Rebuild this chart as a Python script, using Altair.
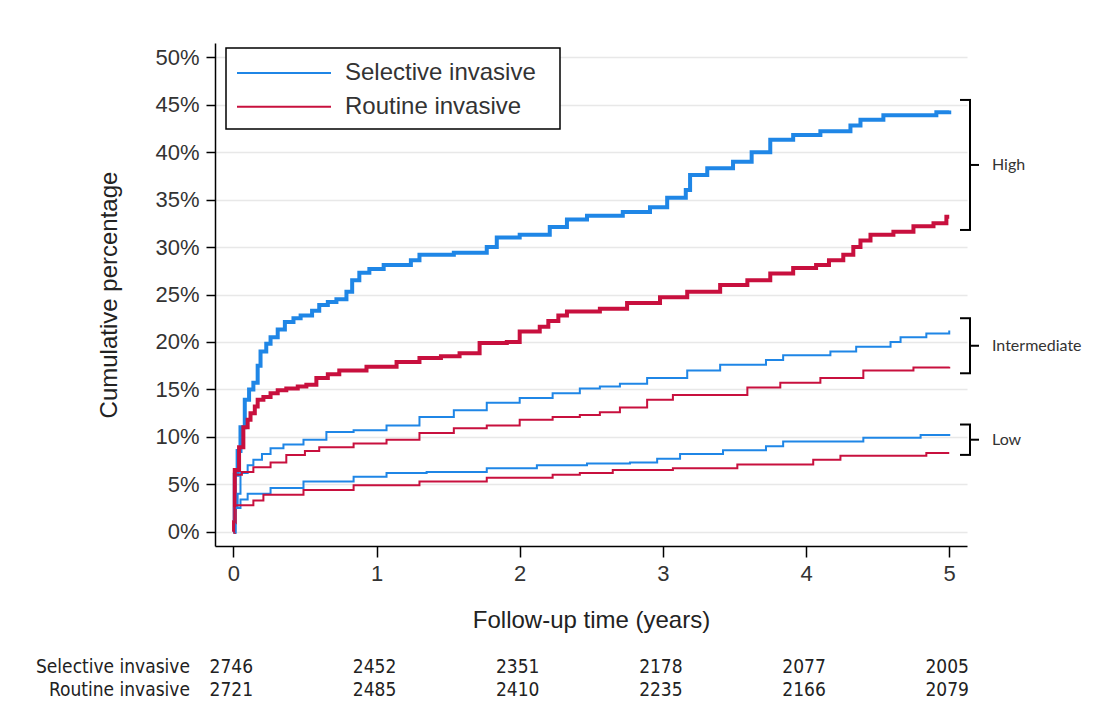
import altair as alt
import pandas as pd

arms = ["Selective invasive", "Routine invasive"]
groups = ["High", "Intermediate", "Low"]
arm_colors = ["#1f86e6", "#c8103e"]

# ---- cumulative incidence curves (years, cumulative %) ----
high_sel_t = [0, 0.01, 0.03, 0.05, 0.08, 0.11, 0.14, 0.17, 0.19, 0.23, 0.26, 0.31, 0.36, 0.42, 0.47,
              0.55, 0.6, 0.66, 0.72, 0.79, 0.83, 0.88, 0.95, 1.05, 1.24, 1.3, 1.54, 1.77, 1.84, 2.0,
              2.21, 2.33, 2.47, 2.72, 2.91, 3.03, 3.16, 3.19, 3.31, 3.49, 3.62, 3.75, 3.91, 4.1,
              4.31, 4.38, 4.54, 4.91, 5.0]
high_sel_p = [0, 6.0, 8.5, 11.0, 13.9, 15.0, 15.7, 17.5, 19.0, 19.8, 20.5, 21.3, 22.1, 22.5, 22.8,
              23.3, 23.9, 24.2, 24.5, 25.3, 26.5, 27.3, 27.7, 28.1, 28.6, 29.2, 29.4, 30.0, 31.0, 31.3,
              32.1, 32.9, 33.3, 33.7, 34.2, 35.2, 36.0, 37.6, 38.3, 39.0, 40.0, 41.3, 41.8, 42.2,
              42.8, 43.4, 43.9, 44.2, 44.4]

high_rout_t = [0, 0.005, 0.01, 0.04, 0.07, 0.1, 0.12, 0.15, 0.17, 0.21, 0.26, 0.31, 0.37, 0.45, 0.51,
               0.58, 0.66, 0.74, 0.93, 1.14, 1.3, 1.45, 1.58, 1.72, 1.91, 2.0, 2.14, 2.2, 2.27, 2.33,
               2.56, 2.75, 2.98, 3.17, 3.4, 3.59, 3.75, 3.91, 4.07, 4.16, 4.26, 4.33, 4.38, 4.45,
               4.61, 4.75, 4.89, 4.98, 5.0]
high_rout_p = [0, 1.0, 6.5, 8.9, 11.0, 11.8, 12.5, 13.2, 13.9, 14.2, 14.6, 14.9, 15.1, 15.3, 15.5,
               16.2, 16.6, 17.0, 17.4, 17.9, 18.3, 18.5, 18.8, 19.9, 20.0, 21.1, 21.6, 22.2, 22.8, 23.2,
               23.5, 24.1, 24.7, 25.3, 26.0, 26.5, 27.2, 27.8, 28.1, 28.6, 29.2, 30.0, 30.7, 31.3,
               31.6, 32.2, 32.5, 33.2, 33.2]

int_sel_t = [0, 0.01, 0.03, 0.05, 0.1, 0.14, 0.2, 0.26, 0.35, 0.49, 0.65, 0.84, 1.07, 1.3, 1.54,
             1.77, 2.0, 2.23, 2.42, 2.56, 2.7, 2.89, 3.17, 3.4, 3.72, 3.84, 4.17, 4.35, 4.59, 4.66,
             4.84, 5.0]
int_sel_p = [0, 2.5, 4.0, 6.2, 7.0, 7.6, 8.2, 8.8, 9.2, 9.7, 10.5, 10.7, 11.2, 12.1, 12.8,
             13.6, 14.1, 14.6, 15.1, 15.3, 15.6, 16.2, 17.0, 17.6, 18.1, 18.6, 19.0, 19.5, 20.0, 20.5,
             20.9, 21.2]

int_rout_t = [0, 0.005, 0.01, 0.06, 0.14, 0.26, 0.37, 0.5, 0.6, 0.84, 1.07, 1.3, 1.54, 1.77, 2.0,
              2.23, 2.42, 2.56, 2.7, 2.89, 3.07, 3.59, 3.82, 4.1, 4.4, 4.75, 5.0]
int_rout_p = [0, 1.0, 6.0, 6.3, 6.8, 7.3, 8.1, 8.5, 8.9, 9.3, 9.7, 10.4, 10.9, 11.2, 11.8,
              12.1, 12.3, 12.6, 13.1, 13.9, 14.4, 15.2, 15.7, 16.2, 17.0, 17.3, 17.4]

low_sel_t = [0, 0.01, 0.05, 0.1, 0.26, 0.49, 0.84, 1.07, 1.35, 1.77, 2.12, 2.47, 2.77, 2.96, 3.12,
             3.42, 3.72, 3.84, 4.4, 4.8, 5.0]
low_sel_p = [0, 2.5, 3.4, 4.0, 4.6, 5.3, 5.8, 6.2, 6.3, 6.7, 7.0, 7.2, 7.3, 7.7, 8.2,
             8.6, 9.0, 9.5, 9.9, 10.2, 10.3]

low_rout_t = [0, 0.005, 0.01, 0.14, 0.21, 0.49, 0.84, 1.3, 1.77, 2.23, 2.42, 2.65, 3.07, 3.52, 4.05,
              4.24, 4.84, 5.0]
low_rout_p = [0, 1.0, 2.8, 3.3, 3.9, 4.4, 4.9, 5.3, 5.7, 6.0, 6.2, 6.5, 6.7, 7.1, 7.6,
              8.0, 8.3, 8.3]

# ---- numbers at risk ----
risk_years = [0, 1, 2, 3, 4, 5]
risk_sel = [2746, 2452, 2351, 2178, 2077, 2005]
risk_rout = [2721, 2485, 2410, 2235, 2166, 2079]

# ---- risk-group brackets (cumulative %) ----
bracket_top = [45.5, 22.5, 11.3]
bracket_bottom = [31.8, 16.7, 8.1]

series = [
    ("High", arms[0], high_sel_t, high_sel_p),
    ("High", arms[1], high_rout_t, high_rout_p),
    ("Intermediate", arms[0], int_sel_t, int_sel_p),
    ("Intermediate", arms[1], int_rout_t, int_rout_p),
    ("Low", arms[0], low_sel_t, low_sel_p),
    ("Low", arms[1], low_rout_t, low_rout_p),
]
rows = []
for g, a, ts, ps in series:
    for t, p in zip(ts, ps):
        rows.append({"group": g, "arm": a, "t": t, "p": p})
curves = pd.DataFrame(rows)

risk_rows = []
for a, ns in zip(arms, [risk_sel, risk_rout]):
    for yr, n in zip(risk_years, ns):
        risk_rows.append({"arm": a, "t": yr, "n": str(n)})
risk = pd.DataFrame(risk_rows)

brackets = pd.DataFrame({"group": groups, "top": bracket_top, "bottom": bracket_bottom})
arm_df = pd.DataFrame({"arm": arms})
one = pd.DataFrame({"k": [0]})

FONT = "Liberation Sans"
NARROW = "DejaVu Sans Condensed, Liberation Sans Narrow, Liberation Sans"
TXT = "#333333"

x_scale = alt.Scale(domain=[-0.128, 5.124], nice=False, zero=False)
y_scale = alt.Scale(domain=[-1.5, 51.5], nice=False, zero=False)
color = alt.Color("arm:N", scale=alt.Scale(domain=arms, range=arm_colors), legend=None)

x_enc = alt.X("t:Q", scale=x_scale, title="Follow-up time (years)",
              axis=alt.Axis(values=risk_years, grid=False, tickSize=11, labelPadding=6,
                            labelFlush=False, titlePadding=24))

lines = alt.Chart(curves).mark_line(interpolate="step-after").encode(
    x=x_enc,
    y=alt.Y("p:Q", scale=y_scale, title="Cumulative percentage",
            axis=alt.Axis(values=list(range(0, 51, 5)), labelExpr="datum.value + '%'",
                          grid=True, tickSize=9, labelPadding=7, titlePadding=33)),
    color=color,
    strokeWidth=alt.StrokeWidth("group:N",
                                scale=alt.Scale(type="ordinal", domain=groups, range=[4, 2, 2]),
                                legend=None),
)

bstyle = dict(color="black", strokeWidth=2)
b_vert = alt.Chart(brackets).mark_rule(**bstyle).encode(
    x=alt.value(755),
    y=alt.Y("top:Q", scale=y_scale, axis=None),
    y2="bottom:Q",
)
b_top = alt.Chart(brackets).mark_rule(**bstyle).encode(
    x=alt.value(745), x2=alt.value(756),
    y=alt.Y("top:Q", scale=y_scale, axis=None),
)
b_bot = alt.Chart(brackets).mark_rule(**bstyle).encode(
    x=alt.value(745), x2=alt.value(756),
    y=alt.Y("bottom:Q", scale=y_scale, axis=None),
)
b_mid = alt.Chart(brackets).transform_calculate(
    mid="(datum.top + datum.bottom) / 2"
).mark_rule(**bstyle).encode(
    x=alt.value(755), x2=alt.value(764),
    y=alt.Y("mid:Q", scale=y_scale, axis=None),
)
b_txt = alt.Chart(brackets).transform_calculate(
    mid="(datum.top + datum.bottom) / 2"
).mark_text(align="left", baseline="middle", font="Lato", fontSize=16, color=TXT).encode(
    x=alt.value(777),
    y=alt.Y("mid:Q", scale=y_scale, axis=None),
    text="group:N",
)

# legend
leg_y = alt.Y("arm:N", scale=alt.Scale(type="point", domain=arms, range=[30, 63.7], padding=0),
              axis=None)
leg_box = alt.Chart(one).mark_rect(fill="white", stroke="black", strokeWidth=1.5).encode(
    x=alt.value(11), x2=alt.value(345), y=alt.value(5), y2=alt.value(86),
)
leg_sym = alt.Chart(arm_df).mark_rule(strokeWidth=2).encode(
    x=alt.value(22), x2=alt.value(116), y=leg_y, color=color,
)
leg_lab = alt.Chart(arm_df).mark_text(align="left", baseline="middle", font=FONT, fontSize=24,
                                      color=TXT).encode(
    x=alt.value(130), y=leg_y, text="arm:N",
)

# numbers at risk table
row_y = alt.Y("arm:N", scale=alt.Scale(type="point", domain=arms, range=[624, 647], padding=0),
              axis=None)
risk_lab = alt.Chart(arm_df).mark_text(align="right", baseline="middle", font=NARROW,
                                       fontSize=19, color="#222222").encode(
    x=alt.value(-25), y=row_y, text="arm:N",
)
risk_num = alt.Chart(risk).mark_text(align="center", baseline="middle", dx=-2, font=NARROW,
                                     fontSize=19, color="#222222").encode(
    x=x_enc, y=row_y, text="n:N",
)

chart = alt.layer(
    lines, b_vert, b_top, b_bot, b_mid, b_txt, leg_box, leg_sym, leg_lab, risk_lab, risk_num
).resolve_scale(
    y="independent"
).properties(
    width=752, height=503,
    autosize=alt.AutoSizeParams(type="none"),
    padding={"left": 207, "top": 35, "right": 130, "bottom": 158},
    background="white",
).configure_view(
    strokeWidth=0
).configure_axis(
    domainColor="black", domainWidth=1.5, tickColor="black", tickWidth=1.5,
    labelFont=FONT, labelFontSize=22, labelColor=TXT,
    titleFont=FONT, titleFontSize=24, titleFontWeight="normal", titleColor="#222222",
    gridColor="#e8e8e8", gridWidth=1.5,
)

chart.save("out.html", embed_options={"renderer": "svg", "actions": False})
